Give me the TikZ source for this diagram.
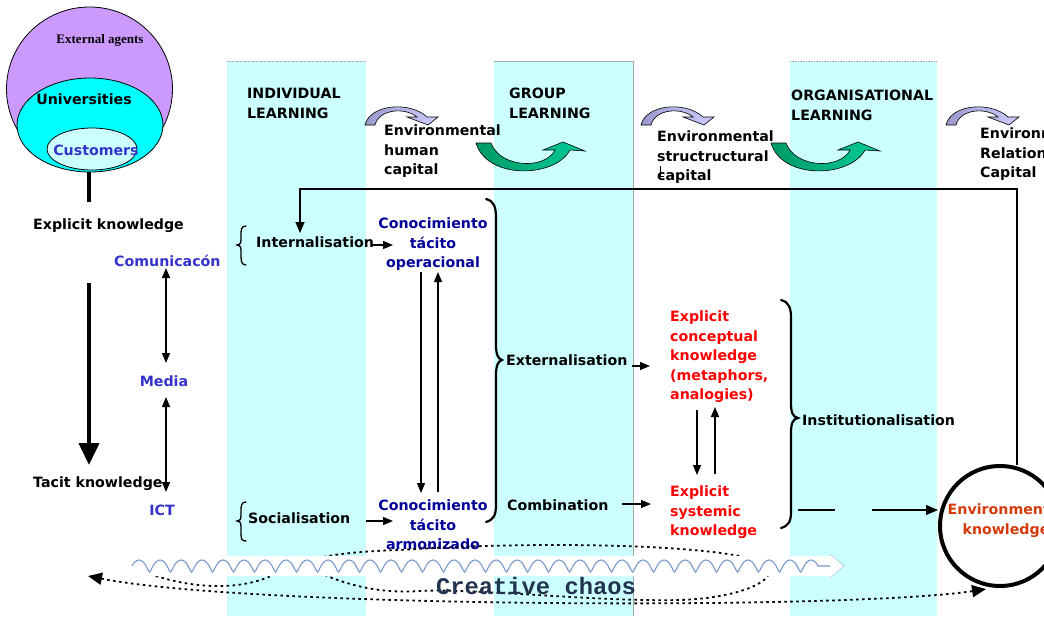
\documentclass[tikz,border=0pt]{standalone}
\usepackage{fontspec}
\setmainfont{DejaVu Sans}
\newfontfamily\serifb{Liberation Serif}
\newfontfamily\monof{Liberation Mono}
\usetikzlibrary{arrows.meta,decorations.pathmorphing}
\definecolor{colcyan}{HTML}{CCFFFF}
\definecolor{purp}{HTML}{CC99FF}
\definecolor{univ}{HTML}{00FFFF}
\definecolor{blueT}{HTML}{3333CC}
\definecolor{navyT}{HTML}{000099}
\definecolor{redT}{HTML}{FF0000}
\definecolor{orangeT}{HTML}{D43A0A}
\definecolor{gdark}{HTML}{009966}
\definecolor{glight}{HTML}{00CC99}
\definecolor{ldark}{HTML}{9999CC}
\definecolor{llight}{HTML}{CCCCFF}
\definecolor{wavec}{HTML}{7799CC}
\definecolor{chaosT}{HTML}{22334F}
\tikzset{
  txt/.style={inner sep=0pt, font=\fontsize{14.2}{19.5}\selectfont\bfseries},
  bluet/.style={txt, text=blueT},
  navyt/.style={txt, text=navyT, align=center},
  redt/.style={txt, text=redT, align=left},
  arr/.style={line width=1.3pt, -{Triangle[length=10pt,width=8pt]}},
  dotline/.style={line width=1.8pt, dash pattern=on 2.5pt off 3.5pt},
  bracestyle/.style={line width=2.2pt, line cap=round},
}
\begin{document}
\begin{tikzpicture}[x=1pt,y=-1pt]
\useasboundingbox (0,0) rectangle (1044,616);
\clip (0,0) rectangle (1044,616);
% columns
\fill[colcyan] (227,61) rectangle (366,616);
\fill[colcyan] (494,61) rectangle (633,616);
\fill[colcyan] (790,61) rectangle (937,616);
\draw[gray!70, line width=0.6pt] (494,61) -- (633,61) -- (633,616);
\draw[gray!70, line width=0.6pt, densely dotted] (790,61) -- (937,61);
\draw[gray!70, line width=0.6pt, densely dotted] (227,61) -- (366,61);
% circles
\draw[fill=purp, line width=0.8pt] (89.5,89) ellipse [x radius=83, y radius=82];
\draw[fill=univ, line width=0.8pt] (90,125) ellipse [x radius=73, y radius=47];
\draw[fill=colcyan, line width=0.8pt] (92,149) ellipse [x radius=45, y radius=21];
\node[inner sep=0pt, font=\serifb\fontsize{13}{15}\selectfont\bfseries] (ext) at (100,40) {External agents};
\node[txt, anchor=base] (univ) at (84,104.5) {Universities};
\node[txt, text=blueT, anchor=base] (cust) at (96,155.5) {Customers};
% left knowledge axis
\node[txt, anchor=base west] (expk) at (33,229.5) {Explicit knowledge};
\node[txt, anchor=base west] (tack) at (33,487.5) {Tacit knowledge};
\coordinate (ax1) at (89,172);
\coordinate (ax2) at (89,202);
\coordinate (ax3) at (89,283);
\coordinate (ax4) at (89,465);
\draw[line width=4pt] (ax1) -- (ax2);
\draw[line width=4pt, -{Triangle[length=22pt,width=20pt]}] (ax3) -- (ax4);
\node[bluet, anchor=base west] (comu) at (114,266.5) {Comunicacón};
\node[bluet, anchor=base] (media) at (164,386.5) {Media};
\node[bluet, anchor=base] (ict) at (162,515.5) {ICT};
\coordinate (c1) at (166,268);
\coordinate (c2) at (166,363);
\coordinate (c3) at (166,397);
\coordinate (c4) at (166,492);
\draw[line width=1.3pt, {Triangle[length=10pt,width=8pt]}-{Triangle[length=10pt,width=8pt]}] (c1) -- (c2);
\draw[line width=1.3pt, {Triangle[length=10pt,width=8pt]}-{Triangle[length=10pt,width=8pt]}] (c3) -- (c4);
% headers
\node[txt, anchor=north west, align=left] (ind) at (247,88) {INDIVIDUAL\\LEARNING};
\node[txt, anchor=north west, align=left] (grp) at (509,88) {GROUP\\LEARNING};
\node[txt, anchor=north west, align=left] (org) at (791,90) {ORGANISATIONAL\\LEARNING};
\node[txt, anchor=north west, align=left] (ehc) at (384,125) {Environmental\\human\\capital};
\node[txt, anchor=north west, align=left] (esc) at (657,131) {Environmental\\structructural\\capital};
\node[txt, anchor=north west, align=left] (erc) at (980,128) {Environmental\\Relational\\Capital};
\draw[line width=0.8pt] (660,166) -- (660,176) -- (664,176);
% lavender curved arrows
\foreach \ox in {365,641,946}{
  \shade[left color=ldark, right color=llight, draw=black, line width=0.6pt, shift={(\ox,104)}]
   (0,21) .. controls (5,0) and (45,-3) .. (62,13) -- (73,13) -- (63,21) -- (42,13) -- (52,13) .. controls (40,3) and (14,5) .. (10,21) -- cycle;
}
% green U arrows
\foreach \ox in {475,770}{
  \shade[left color=gdark, right color=glight, draw=black, line width=0.6pt, shift={(\ox,140)}]
   (1,3) .. controls (12,40) and (80,38) .. (95,10) -- (110,11) -- (88,2) -- (68,10) -- (80,10) .. controls (70,30) and (25,28) .. (16,3) -- cycle;
}
% individual column
\node[txt, anchor=base west] (intl) at (256,247.5) {Internalisation};
\node[txt, anchor=base west] (soc) at (248,523.5) {Socialisation};
\draw[bracestyle, line width=1.3pt] (246,226) .. controls (241,226) and (241,230) .. (241,236) -- (241,240) .. controls (241,244) and (239,245) .. (237,245) .. controls (239,245) and (241,246) .. (241,250) -- (241,256) .. controls (241,262) and (242,265) .. (246,265);
\draw[bracestyle, line width=1.3pt] (246,502) .. controls (241,502) and (241,506) .. (241,512) -- (241,516) .. controls (241,520) and (239,521) .. (237,521) .. controls (239,521) and (241,522) .. (241,526) -- (241,534) .. controls (241,539) and (242,541) .. (246,541);
\node[navyt, anchor=north] (conop) at (433,218) {Conocimiento\\tácito\\operacional};
\node[navyt, anchor=north] (conarm) at (433,500) {Conocimiento\\tácito\\armonizado};
\coordinate (n1) at (372,245);
\coordinate (n2) at (393,245);
\draw[arr] (n1) -- (n2);
\coordinate (s1) at (366,521);
\coordinate (s2) at (393,521);
\draw[arr] (s1) -- (s2);
\coordinate (v1a) at (421,272);
\coordinate (v1b) at (421,493);
\coordinate (v2a) at (438,492);
\coordinate (v2b) at (438,272);
\draw[arr] (v1a) -- (v1b);
\draw[arr] (v2a) -- (v2b);
% feedback line
\coordinate (f1) at (1017,465);
\coordinate (f2) at (1017,189);
\coordinate (f3) at (300,189);
\coordinate (f4) at (300,233);
\draw[line width=1.1pt, -{Triangle[length=11pt,width=9pt]}] (f1) -- (f2) -- (f3) -- (f4);
% big brace 1
\draw[bracestyle] (486,199) .. controls (494,201) and (496,207) .. (496,218) -- (496,345) .. controls (496,354) and (498,359) .. (502,360) .. controls (498,361) and (496,366) .. (496,375) -- (496,505) .. controls (496,516) and (493,520) .. (486,522);
% group column
\node[txt, anchor=base west] (extl) at (506,365.5) {Externalisation};
\node[txt, anchor=base west] (comb) at (507,510.5) {Combination};
\coordinate (e1) at (632,366);
\coordinate (e2) at (650,366);
\draw[arr] (e1) -- (e2);
\coordinate (cb1) at (622,504);
\coordinate (cb2) at (651,504);
\draw[arr] (cb1) -- (cb2);
\node[redt, anchor=north west] (eck) at (670,311) {Explicit\\conceptual\\knowledge\\(metaphors,\\analogies)};
\node[redt, anchor=north west] (esk) at (670,486) {Explicit\\systemic\\knowledge};
\coordinate (w1a) at (697,410);
\coordinate (w1b) at (697,475);
\coordinate (w2a) at (715,474);
\coordinate (w2b) at (715,407);
\draw[arr] (w1a) -- (w1b);
\draw[arr] (w2a) -- (w2b);
% big brace 2
\draw[bracestyle] (781,300) .. controls (789,302) and (791,308) .. (791,318) -- (791,403) .. controls (791,413) and (793,417) .. (798,418) .. controls (793,419) and (791,423) .. (791,433) -- (791,512) .. controls (791,522) and (788,526) .. (781,528);
\node[txt, anchor=base west] (inst) at (802,425.5) {Institutionalisation};
\coordinate (i1) at (798,510);
\coordinate (i2) at (835,510);
\draw[line width=1.1pt] (i1) -- (i2);
% environmental knowledge circle
\node[circle, draw, line width=4pt, minimum size=120pt, inner sep=0pt] (envc) at (1000,526) {};
\node[txt, text=orangeT, align=center, anchor=north] (envk) at (1006,504) {Environmental\\knowledge};
\coordinate (i3) at (872,510);
\draw[line width=1.1pt, -{Triangle[length=12pt,width=10pt]}] (i3) -- (envc.west |- i3);
% dotted curves (behind the wavy band)
\coordinate (la) at (88,576);
\coordinate (ra) at (986,589);
\draw[dotline, {Triangle[length=14pt,width=12pt]}-{Triangle[length=14pt,width=12pt]}] (la) .. controls (250,608) and (850,610) .. (ra);
\draw[dotline] (150,574) .. controls (190,588) and (240,592) .. (275,574) .. controls (300,560) and (330,552) .. (400,550) .. controls (550,540) and (740,545) .. (767,565) .. controls (780,580) and (740,598) .. (680,600) .. controls (600,602) and (470,588) .. (420,591) .. controls (380,594) and (340,585) .. (305,565);
% wavy band
\fill[white] (130,556) -- (830,556) -- (830,553) -- (844,566) -- (830,579) -- (830,576) -- (130,576) -- cycle;
\draw[wavec!60, line width=0.6pt] (830,554) -- (844,566) -- (830,578);
\draw[wavec, line width=1.1pt, decorate, decoration={coil, amplitude=6pt, segment length=21pt, aspect=0.3}] (132,566) -- (830,566);
\node[inner sep=0pt, font=\monof\fontsize{23.8}{26}\selectfont\bfseries, text=chaosT] (chaos) at (536,586) {Creative chaos};
\end{tikzpicture}
\end{document}
